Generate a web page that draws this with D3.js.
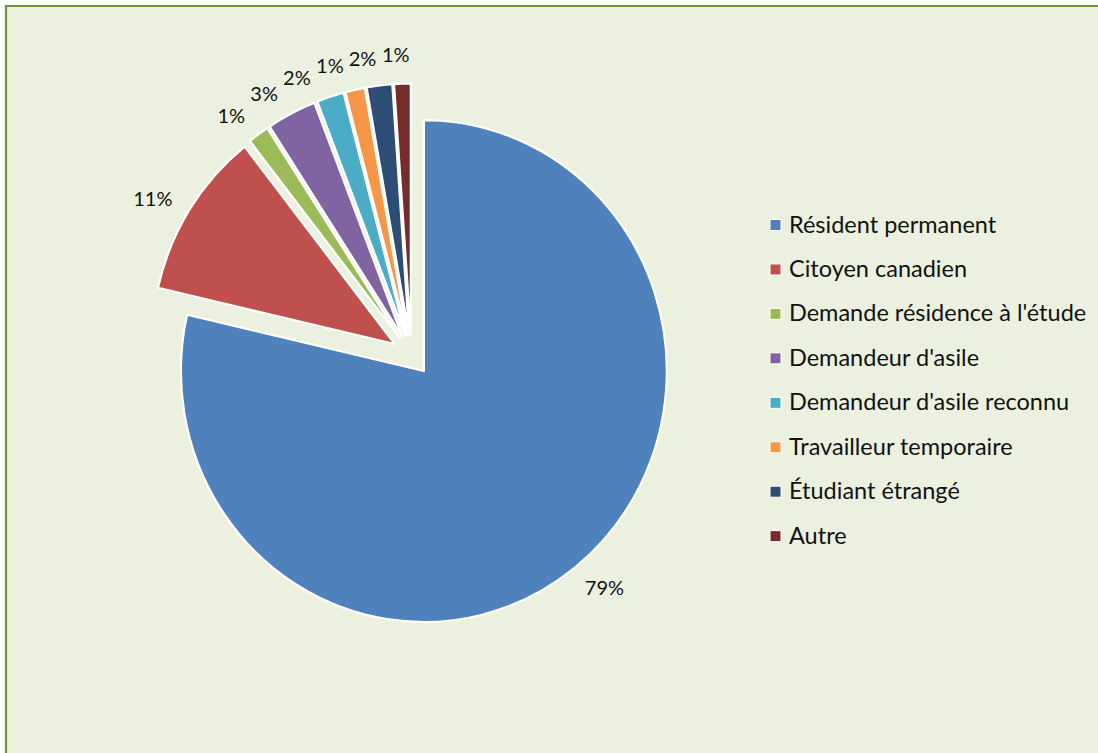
<!DOCTYPE html>
<html>
<head>
<meta charset="utf-8">
<script src="https://cdn.jsdelivr.net/npm/d3@7"></script>
<style>
  html, body { margin: 0; padding: 0; background: #EBF1DE; overflow: hidden; width: 1098px; height: 753px; }
  svg { display: block; }
  svg text { font-family: Lato, "Open Sans", sans-serif; fill: #111; }
</style>
</head>
<body>
<div id="chart"></div>
<script>
// données (parts en %)
var categories = [
  "Résident permanent",
  "Citoyen canadien",
  "Demande résidence à l'étude",
  "Demandeur d'asile",
  "Demandeur d'asile reconnu",
  "Travailleur temporaire",
  "Étudiant étrangé",
  "Autre"
];
var shares = [78.6, 10.8, 1.4, 3.3, 1.8, 1.3, 1.7, 1.1];
var colors = ["#4F81BD", "#C0504D", "#9BBB59", "#8064A2", "#4BACC6", "#F79646", "#2C4D75", "#772C2A"];

var W = 1098, H = 753;
var cx = 411.5, cy = 355, R = 251, sx = 0.968;   // l'image est un peu comprimée en largeur
var explode = 20.5, labelR = 272, labelTilt = -0.02, labelGap = 5;

var svg = d3.select("#chart").append("svg").attr("width", W).attr("height", H);

// marge blanche + cadre (seuls les bords haut et gauche sont visibles)
svg.append("path").attr("d", "M0,0H" + W + "V5H5V" + H + "H0Z").attr("fill", "#fff");
svg.append("path").attr("d", "M6," + H + "V6H" + W)
  .attr("fill", "none").attr("stroke", "#76923C").attr("stroke-width", 2.2);

var pie = d3.pie().sort(null).value(function(d) { return d; });
var arcs = pie(shares);
var total = d3.sum(shares);
var arc = d3.arc().innerRadius(0).outerRadius(R);
var fmt = d3.format(".0%");

function mid(d) { return (d.startAngle + d.endAngle) / 2; }

var g = svg.append("g").attr("transform", "translate(" + cx + "," + cy + ") scale(" + sx + ",1)");
g.selectAll("path").data(arcs).enter().append("path")
  .attr("transform", function(d) {
    var a = mid(d);
    return "translate(" + (Math.sin(a) * explode) + "," + (-Math.cos(a) * explode) + ")";
  })
  .attr("d", arc)
  .attr("fill", function(d, i) { return colors[i]; })
  .attr("stroke", "#fff").attr("stroke-width", 2.2)
  .attr("vector-effect", "non-scaling-stroke")
  .attr("stroke-linejoin", "round");

// étiquettes (à l'extérieur), écartées quand elles se chevauchent
var lab = svg.append("g");
var labels = arcs.map(function(d) {
  var t = lab.append("text").attr("font-size", 20)
    .attr("text-anchor", "middle").attr("dominant-baseline", "central")
    .text(fmt(d.value / total));
  return { d: d, t: t, w: t.node().getComputedTextLength(), h: 18, a: mid(d) + labelTilt };
});
function place(L) {
  var am = mid(L.d);
  var vx = Math.sin(am) * explode, vy = -Math.cos(am) * explode;
  L.x = cx + sx * (vx + Math.sin(L.a) * labelR) + Math.sin(L.a) * L.w / 2;
  L.y = cy + vy - Math.cos(L.a) * labelR - Math.cos(L.a) * L.h / 2;
}
labels.forEach(place);
for (var i = labels.length - 2; i >= 1; i--) {
  var L = labels[i], N = labels[i + 1];
  while (L.x + L.w / 2 + labelGap > N.x - N.w / 2 && Math.abs(L.y - N.y) < L.h + 4) {
    L.a -= 0.002; place(L);
  }
}
labels.forEach(function(L) { L.t.attr("x", L.x).attr("y", L.y); });

// légende
var legend = svg.append("g").attr("transform", "translate(770,225)");
var rows = legend.selectAll("g").data(categories).enter().append("g")
  .attr("transform", function(d, i) { return "translate(0," + (i * 44.45) + ")"; });
rows.append("rect").attr("x", 0).attr("y", -5.5).attr("width", 11).attr("height", 11)
  .attr("fill", function(d, i) { return colors[i]; })
  .attr("stroke", "#fff").attr("stroke-width", 1);
rows.append("text").attr("x", 19).attr("y", 7.5).attr("font-size", 23.5)
  .text(function(d) { return d; });
</script>
</body>
</html>
